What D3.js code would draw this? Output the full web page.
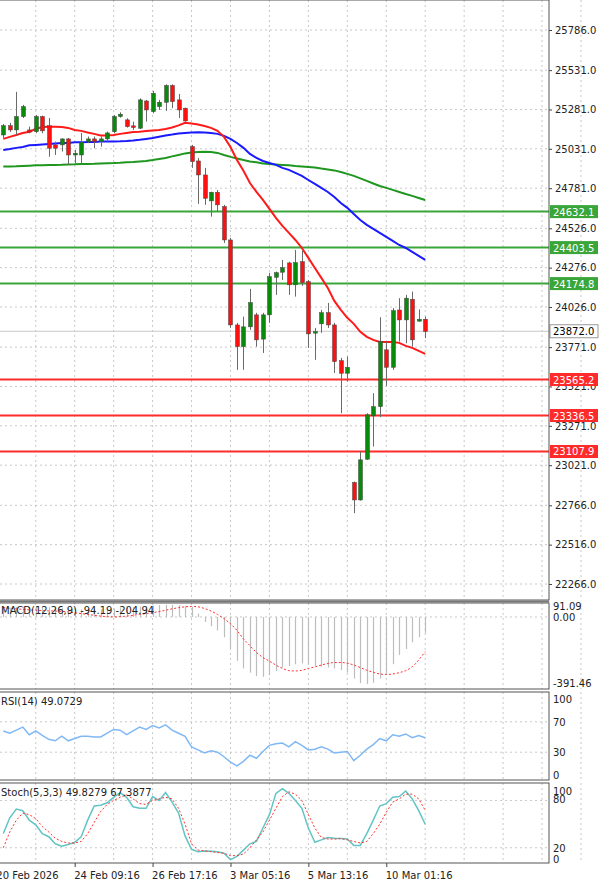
<!DOCTYPE html>
<html><head><meta charset="utf-8">
<script src="https://cdn.jsdelivr.net/npm/d3@7"></script>
<style>body{margin:0;background:#fff}svg{display:block;font-family:Tahoma,"DejaVu Sans",sans-serif}</style>
</head><body>
<script>
const opens  = [25119,25178,25151,25236,25151,25140,25236,25178,25056,25056,25094,24992,24992,25077,25094,25077,25094,25140,25236,25215,25177,25162,25335,25267,25299,25327,25433,25342,25289,25045,24954,24865,24700,24755,24664,24452,23912,23774,23900,23976,23822,23976,24215,24247,24306,24167,24314,24187,23860,23919,23990,23912,23685,23605,22911,22800,23059,23334,23393,23754,23643,24007,23944,24075,23936,23948];
const highs  = [25189,25196,25393,25310,25172,25246,25242,25227,25077,25098,25100,25024,25132,25109,25109,25109,25140,25246,25263,25225,25204,25352,25342,25399,25342,25441,25441,25380,25293,25056,24973,24910,24759,24770,24675,24465,23925,23965,24141,23989,23989,24243,24251,24325,24314,24389,24384,24198,23893,24008,24052,23925,23703,23711,22917,23107,23351,23478,23961,23806,24019,24082,24103,24124,24011,23965];
const lows   = [25100,25138,25119,25227,25130,25130,25130,24981,24992,25014,24929,24941,24929,25067,25035,25045,25077,25130,25229,25166,25151,25157,25204,25257,25278,25272,25289,25227,25204,24910,24681,24675,24600,24632,24433,23893,23627,23627,23881,23774,23734,23925,24103,24198,24103,24092,24160,23766,23690,23862,23893,23607,23351,23552,22716,22796,23055,23139,23326,23525,23627,23806,23796,23774,23933,23828];
const closes = [25178,25151,25236,25299,25137,25236,25145,25035,25035,25094,24992,25003,25073,25094,25077,25094,25132,25236,25251,25172,25166,25342,25278,25384,25327,25433,25331,25278,25208,24950,24865,24717,24755,24675,24452,23912,23774,23900,24054,23817,23976,24219,24244,24276,24167,24308,24181,23855,23870,23990,23912,23679,23605,23643,22800,23055,23341,23393,23806,23643,24003,23944,24082,23817,23948,23870];
const maFast = [25094,25107,25119,25132,25140,25157,25170,25172,25172,25170,25164,25151,25145,25135,25126,25116,25116,25119,25126,25132,25138,25140,25145,25148,25151,25157,25167,25180,25196,25192,25186,25176,25164,25145,25107,25043,24960,24891,24814,24757,24706,24649,24592,24541,24497,24452,24401,24338,24274,24211,24147,24065,24008,23957,23919,23868,23836,23817,23804,23804,23804,23798,23779,23766,23747,23728];
const maMid  = [25024,25030,25037,25043,25053,25056,25059,25062,25065,25068,25068,25072,25072,25075,25075,25077,25077,25078,25079,25081,25084,25088,25094,25100,25108,25116,25122,25129,25132,25135,25136,25135,25132,25126,25113,25094,25068,25037,24999,24973,24954,24941,24929,24910,24897,24878,24859,24833,24808,24783,24757,24725,24687,24656,24617,24579,24548,24522,24497,24471,24446,24420,24401,24376,24351,24325];
const maSlow = [24918,24919,24920,24922,24924,24926,24927,24929,24929,24930,24932,24933,24935,24935,24936,24938,24940,24941,24943,24946,24948,24951,24954,24960,24967,24973,24983,24992,25002,25008,25011,25013,25011,25005,24992,24980,24970,24960,24951,24945,24938,24935,24932,24929,24926,24922,24919,24916,24913,24906,24900,24894,24884,24872,24859,24843,24827,24811,24795,24783,24770,24757,24744,24732,24719,24706];
const macdHist = [55,55,58,60,60,62,60,58,55,52,50,48,45,45,45,46,48,50,52,55,58,62,65,68,70,72,72,70,66,60,20,-30,-55,-80,-120,-190,-260,-305,-330,-350,-355,-345,-320,-300,-290,-280,-275,-280,-290,-295,-300,-305,-315,-330,-365,-392,-398,-390,-365,-335,-280,-225,-190,-150,-120,-94.19];
const macdSignal = [55,52,48,45,42,40,38,36,35,33,30,25,20,15,10,5,2,0,2,5,10,15,20,25,32,40,48,55,60,62,60,50,35,15,-10,-40,-80,-130,-170,-210,-240,-262,-285,-305,-318,-320,-316,-305,-296,-285,-276,-270,-270,-274,-285,-300,-316,-328,-338,-341,-338,-330,-318,-295,-255,-204.94];
const rsi = [58,55,59,63,53,58,52,47,45,51,45,48,51,51,50,50,55,60,59,53,58,63,60,65,62,66,59,55,51,37,33,29,32,30,24,17,12,18,26,22,31,39,41,42,37,44,39,33,34,37,34,29,30,31,19,26,34,40,48,45,53,51,54,49,52,49.07];
const stochK = [38,58,69,67,55,49,38,34,25,22,24,27,34,55,73,74,77,84,90,84,72,70,70,85,80,90,78,64,35,18,15,16,15.7,15,13,5,9,17,25,28,45,62,89,95,89,80,70,45,27,30,33,32,31.6,31,23,23,38,55,73,76,84,85,92,82,67,49.83];
const stochD = [20,40,55,64,62,57,47,40,32,28,26,26,28,38,52,66,75,80,84,87,82,76,75,80,82,84,82,70,50,25,17,16,15,14,13,10,10,12,20,30,40,55,70,85,91,88,80,62,45,33,31,31,31.6,30,28,26,28,38,50,65,78,82,88,88,82,67.39];
const priceTicks = [25786,25531,25281,25031,24781,24526,24276,24026,23771,23521,23271,23021,22766,22516,22266];
const resistLevels = [24632.1,24403.5,24174.8];
const supportLevels = [23565.2,23336.5,23107.9];
const lastPrice = 23872.0;
const timeLabels = ["20 Feb 2026","24 Feb 09:16","26 Feb 17:16","3 Mar 05:16","5 Mar 13:16","10 Mar 01:16"];
const timeLabelIdx = [-1,11,23,35,47,59];
const macdLabels = [91.09,0,-391.46];
const rsiLabels = [100,70,30,0];
const stochLabels = [100,80,20,0];

const W=600,H=882,R=549;
const svg=d3.select("body").append("svg").attr("width",W).attr("height",H);
const idx=d3.range(opens.length);
const x=d3.scaleLinear().domain([0,65]).range([3.3,425.2]);
const y=d3.scaleLinear().domain([22266,25786]).range([584,30]);
const yM=d3.scaleLinear().domain([-391.46,91.09]).range([683,601.6]);
const yR=d3.scaleLinear().domain([0,100]).range([775,699]);
const yS=d3.scaleLinear().domain([0,100]).range([863.5,784.7]);
const panels=[[0,600],[603,689],[692,780],[783,863]];
const clipIds=["c0","c1","c2","c3"];
const defs=svg.append("defs");
panels.forEach((p,k)=>defs.append("clipPath").attr("id",clipIds[k]).append("rect").attr("x",0).attr("y",p[0]).attr("width",R).attr("height",p[1]-p[0]));
const grid="#c8c8c8";
// vertical grid
const vg=d3.range(-1,90,6);
panels.forEach(p=>{
  svg.append("g").selectAll("line").data(vg).join("line")
   .attr("x1",d=>x(d)).attr("x2",d=>x(d)).attr("y1",p[0]).attr("y2",p[1])
   .attr("stroke",grid).attr("stroke-dasharray","2,3");
});
// horizontal grid main
svg.append("g").selectAll("line").data(priceTicks).join("line")
 .attr("x1",0).attr("x2",R).attr("y1",d=>y(d)).attr("y2",d=>y(d))
 .attr("stroke",grid).attr("stroke-dasharray","2,3");
// last price line
svg.append("line").attr("x1",0).attr("x2",R).attr("y1",y(lastPrice)).attr("y2",y(lastPrice)).attr("stroke","#c8c8c8");
// level lines
svg.append("g").selectAll("line").data(resistLevels).join("line")
 .attr("x1",0).attr("x2",R).attr("y1",d=>y(d)).attr("y2",d=>y(d)).attr("stroke","#3aa63a").attr("stroke-width",2);
svg.append("g").selectAll("line").data(supportLevels).join("line")
 .attr("x1",0).attr("x2",R).attr("y1",d=>y(d)).attr("y2",d=>y(d)).attr("stroke","#ff2a2a").attr("stroke-width",2);
// MAs
const mainG=svg.append("g").attr("clip-path","url(#c0)");
[[maSlow,"#1f961f"],[maMid,"#1a1aff"],[maFast,"#ff1a1a"]].forEach(([arr,c])=>{
  mainG.append("path").datum(arr).attr("fill","none").attr("stroke",c).attr("stroke-width",2)
   .attr("d",d3.line().x((d,i)=>x(i)).y(d=>y(d)));
});
// candles
const cg=mainG.append("g");
cg.selectAll("line").data(idx).join("line")
 .attr("x1",i=>Math.round(x(i))+0.5).attr("x2",i=>Math.round(x(i))+0.5)
 .attr("y1",i=>y(highs[i])).attr("y2",i=>y(lows[i])).attr("stroke","#6a6a6a");
cg.selectAll("rect").data(idx).join("rect")
 .attr("x",i=>Math.round(x(i))-1.5).attr("width",4)
 .attr("y",i=>y(Math.max(opens[i],closes[i])))
 .attr("height",i=>Math.max(1.5,Math.abs(y(opens[i])-y(closes[i]))))
 .attr("fill",i=>closes[i]>=opens[i]?"#0a8a0a":"#ff1010")
 .attr("stroke","#444").attr("stroke-width",0.5);
// right axis main
const ax=svg.append("g").attr("transform",`translate(${R},0)`)
 .call(d3.axisRight(y).tickValues(priceTicks).tickSize(3).tickFormat(d=>d.toFixed(1)));
ax.select(".domain").remove();
ax.selectAll("text").attr("font-size",10).attr("fill","#222").attr("font-family","Tahoma,'DejaVu Sans',sans-serif");
ax.selectAll("line").attr("stroke","#444");
// level labels
function tag(v,bg,fg){
  const g=svg.append("g");
  g.append("rect").attr("x",550).attr("y",y(v)-6.5).attr("width",48).attr("height",13).attr("fill",bg).attr("stroke",bg==="#fff"?"#999":"none");
  g.append("text").attr("x",553).attr("y",y(v)+4).attr("font-size",10).attr("fill",fg).text(v.toFixed(1));
}
resistLevels.forEach(v=>tag(v,"#3aa63a","#fff"));
supportLevels.forEach(v=>tag(v,"#ff2a2a","#fff"));
tag(lastPrice,"#fff","#000");

// MACD
const mg=svg.append("g").attr("clip-path","url(#c1)");
mg.append("line").attr("x1",0).attr("x2",R).attr("y1",yM(0)).attr("y2",yM(0)).attr("stroke",grid).attr("stroke-dasharray","2,3");
mg.selectAll("line.h").data(idx).join("line").attr("class","h")
 .attr("x1",i=>Math.round(x(i))+0.5).attr("x2",i=>Math.round(x(i))+0.5)
 .attr("y1",yM(0)).attr("y2",i=>yM(macdHist[i])).attr("stroke","#bdbdbd").attr("stroke-width",1.2);
mg.append("path").datum(macdSignal).attr("fill","none").attr("stroke","#ff3030").attr("stroke-width",1).attr("stroke-dasharray","2,2")
 .attr("d",d3.line().x((d,i)=>x(i)).y(d=>yM(d)).curve(d3.curveMonotoneX));
svg.append("text").attr("x",1).attr("y",614).attr("font-size",10).attr("fill","#222").text("MACD(12,26,9) -94.19 -204.94");
svg.append("g").selectAll("text").data(macdLabels).join("text")
 .attr("x",553).attr("y",(d,k)=>yM(d)+[8,4,4][k]).attr("font-size",10).attr("fill","#222")
 .text(d=>d.toFixed(2));

// RSI
const rg=svg.append("g").attr("clip-path","url(#c2)");
rg.selectAll("line").data([70,30]).join("line").attr("x1",0).attr("x2",R).attr("y1",d=>yR(d)).attr("y2",d=>yR(d)).attr("stroke",grid).attr("stroke-dasharray","2,3");
rg.append("path").datum(rsi).attr("fill","none").attr("stroke","#7fb8f5").attr("stroke-width",1.5)
 .attr("d",d3.line().x((d,i)=>x(i)).y(d=>yR(d)));
svg.append("text").attr("x",1).attr("y",705).attr("font-size",10).attr("fill","#222").text("RSI(14) 49.0729");
svg.append("g").selectAll("text").data(rsiLabels).join("text")
 .attr("x",553).attr("y",d=>yR(d)+4).attr("font-size",10).attr("fill","#222").text(d=>d);

// Stoch
const sg=svg.append("g").attr("clip-path","url(#c3)");
sg.selectAll("line").data([80,20]).join("line").attr("x1",0).attr("x2",R).attr("y1",d=>yS(d)).attr("y2",d=>yS(d)).attr("stroke",grid).attr("stroke-dasharray","2,3");
sg.append("path").datum(stochK).attr("fill","none").attr("stroke","#62c4c4").attr("stroke-width",1.5)
 .attr("d",d3.line().x((d,i)=>x(i)).y(d=>yS(d)));
sg.append("path").datum(stochD).attr("fill","none").attr("stroke","#ff3030").attr("stroke-width",1).attr("stroke-dasharray","2,2")
 .attr("d",d3.line().x((d,i)=>x(i)).y(d=>yS(d)));
svg.append("text").attr("x",1).attr("y",796).attr("font-size",10).attr("fill","#222").text("Stoch(5,3,3) 49.8279 67.3877");
svg.append("g").selectAll("text").data(stochLabels).join("text")
 .attr("x",553).attr("y",(d,k)=>yS(d)+[10,3,4,-1][k]).attr("font-size",10).attr("fill","#222").text(d=>d);

// panel borders
panels.forEach(p=>{
  svg.append("rect").attr("x",-1).attr("y",p[0]).attr("width",R+1).attr("height",p[1]-p[0]).attr("fill","none").attr("stroke","#555").attr("stroke-width",1);
});
svg.append("line").attr("x1",0).attr("x2",R).attr("y1",601.5).attr("y2",601.5).attr("stroke","#777").attr("stroke-width",2);

// time axis
const tx=svg.append("g").attr("transform","translate(0,863)")
 .call(d3.axisBottom(x).tickValues(timeLabelIdx).tickSize(4).tickFormat((d,k)=>timeLabels[k]));
tx.select(".domain").remove();
tx.selectAll("line").attr("stroke","#444");
tx.selectAll("text").attr("text-anchor","start").attr("font-size",10).attr("fill","#222").attr("dy","0.9em").attr("dx",-1).attr("font-family","Tahoma,'DejaVu Sans',sans-serif");
</script>
</body></html>
